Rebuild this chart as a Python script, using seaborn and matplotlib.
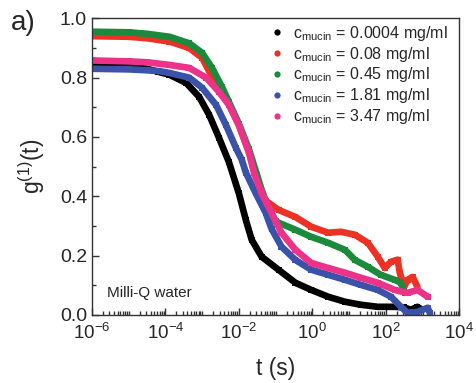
import numpy as np
import pandas as pd
import seaborn as sns
import matplotlib
matplotlib.use("Agg")
import matplotlib.pyplot as plt
from matplotlib.lines import Line2D
from matplotlib.ticker import FixedLocator, LogLocator, NullFormatter

# ---- data: log10(t / s) and g1(t) values ----
logt_0004 = [-6, -5, -4.5, -4.2, -3.89, -3.43, -3.08, -2.81, -2.54, -2.27, -2.0, -1.81, -1.65,
             -1.38, -0.92, -0.46, -0.03, 0.43, 0.89, 1.32, 1.78, 2.24, 2.5, 2.68, 2.86, 2.95]
g_0004 = [0.84, 0.838, 0.83, 0.82, 0.81, 0.782, 0.735, 0.675, 0.597, 0.515, 0.41, 0.32, 0.253,
          0.196, 0.152, 0.108, 0.084, 0.061, 0.044, 0.034, 0.027, 0.027, 0.025, 0.017, 0.027, 0.02]

logt_008 = [-6, -5, -4.5, -3.89, -3.35, -3.0, -2.76, -2.5, -2.27, -2.0, -1.73, -1.5, -1.27,
            -0.92, -0.46, -0.03, 0.43, 0.78, 1.16, 1.51, 1.78, 1.97, 2.14, 2.32, 2.38, 2.5,
            2.59, 2.73, 2.86]
g_008 = [0.94, 0.938, 0.933, 0.922, 0.90, 0.867, 0.81, 0.76, 0.71, 0.64, 0.55, 0.46, 0.385,
         0.354, 0.33, 0.297, 0.277, 0.28, 0.27, 0.243, 0.196, 0.158, 0.179, 0.186, 0.142, 0.094,
         0.118, 0.128, 0.094]

logt_045 = [-6, -5, -4.5, -3.89, -3.35, -3.0, -2.73, -2.46, -2.27, -2.0, -1.73, -1.5, -1.27,
            -1.0, -0.46, -0.03, 0.43, 0.89, 1.16, 1.51, 1.86, 2.24, 2.41, 2.51]
g_045 = [0.955, 0.953, 0.948, 0.938, 0.916, 0.884, 0.833, 0.769, 0.718, 0.645, 0.56, 0.47, 0.375,
         0.315, 0.287, 0.263, 0.243, 0.219, 0.185, 0.162, 0.135, 0.118, 0.108, 0.074]

logt_181 = [-6, -5, -4.5, -4.16, -3.89, -3.35, -3.0, -2.62, -2.35, -2.08, -1.92, -1.81, -1.54,
            -1.27, -1.11, -0.84, -0.46, -0.03, 0.43, 0.89, 1.32, 1.78, 2.14, 2.41, 2.59, 2.86,
            3.14, 3.2]
g_181 = [0.83, 0.828, 0.825, 0.822, 0.816, 0.80, 0.766, 0.708, 0.64, 0.563, 0.523, 0.48, 0.41,
         0.344, 0.29, 0.23, 0.185, 0.152, 0.135, 0.118, 0.101, 0.084, 0.061, 0.027, 0.007, 0.01,
         0.024, 0.005]

logt_347 = [-6, -5, -4.5, -3.89, -3.35, -2.89, -2.54, -2.27, -2.0, -1.73, -1.59, -1.38, -1.11,
            -0.84, -0.46, -0.03, 0.43, 0.89, 1.32, 1.78, 2.24, 2.59, 2.86, 3.14]
g_347 = [0.858, 0.855, 0.852, 0.843, 0.833, 0.80, 0.752, 0.708, 0.64, 0.55, 0.48, 0.41, 0.344,
         0.277, 0.219, 0.175, 0.158, 0.142, 0.125, 0.108, 0.084, 0.074, 0.084, 0.061]

labels = ["0.0004", "0.08", "0.45", "1.81", "3.47"]
colors = ["#000000", "#ec3224", "#1b8a3c", "#3a52a8", "#ec3289"]
series = [(logt_0004, g_0004), (logt_008, g_008), (logt_045, g_045),
          (logt_181, g_181), (logt_347, g_347)]

sns.set_theme(style="ticks")
plt.rcParams["font.family"] = ["Liberation Sans", "DejaVu Sans"]
plt.rcParams["mathtext.fontset"] = "custom"
plt.rcParams["mathtext.rm"] = "Liberation Sans"
plt.rcParams["mathtext.it"] = "Liberation Sans"
plt.rcParams["mathtext.default"] = "regular"

fig = plt.figure(figsize=(4.76, 3.83), dpi=100)
ax = fig.add_axes([0.193, 0.178, 0.772, 0.774])

for (lt, g), lab, col in zip(series, labels, colors):
    df = pd.DataFrame({"t": 10.0 ** np.array(lt), "g": g})
    sns.lineplot(data=df, x="t", y="g", ax=ax, color=col, linewidth=4.8,
                 marker="s", markersize=5, markeredgewidth=0, markerfacecolor=col,
                 sort=False, estimator=None)

ax.set_xscale("log")
ax.set_xlim(1e-6, 1e4)
ax.set_ylim(0, 1.0)
ax.xaxis.set_major_locator(FixedLocator([10.0 ** k for k in range(-6, 5, 2)]))
ax.xaxis.set_minor_locator(LogLocator(base=10, subs=np.arange(1, 10), numticks=100))
ax.xaxis.set_minor_formatter(NullFormatter())
ax.set_yticks([0, 0.2, 0.4, 0.6, 0.8, 1.0])
ax.set_yticklabels(["0.0", "0.2", "0.4", "0.6", "0.8", "1.0"])
ax.set_yticks(np.arange(0.1, 1.0, 0.2), minor=True)
ax.tick_params(which="both", direction="in", top=False, right=False, labelsize=14,
               width=1.0, color="#333333")
ax.tick_params(axis="x", which="both", pad=6, labelsize=13.5)
ax.tick_params(which="major", length=5)
ax.tick_params(which="minor", length=3)
for sp in ax.spines.values():
    sp.set_linewidth(1.0)
    sp.set_color("#333333")

ax.set_xlabel("t (s)", fontsize=16.5, labelpad=10)
ax.set_ylabel("g$^{(1)}$(t)", fontsize=16.5, labelpad=9)

handles = [Line2D([], [], linestyle="none", marker="o", markersize=4.5, color=c,
                  markeredgewidth=0) for c in colors]
leg_labels = [r"c$_{mucin}$ = %s mg/ml" % l for l in labels]
ax.legend(handles, leg_labels, loc="upper right", frameon=False, fontsize=11.5,
          handlelength=1.0, handletextpad=0.5, labelspacing=0.12,
          borderaxespad=0.3, bbox_to_anchor=(1.0, 1.02))

ax.text(0.04, 0.075, "Milli-Q water", transform=ax.transAxes, fontsize=11,
        ha="left", va="center")
fig.text(0.022, 0.94, "a)", fontsize=20, ha="left", va="center")

fig.savefig("out.png", dpi=100)
